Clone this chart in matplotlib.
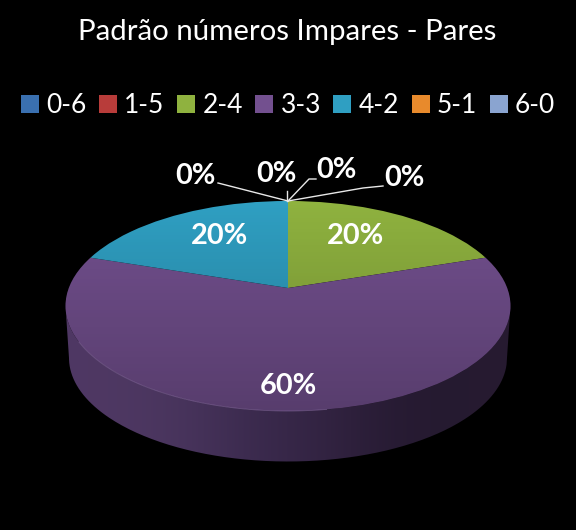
import numpy as np
import matplotlib
matplotlib.use("Agg")
import matplotlib.pyplot as plt
from matplotlib.patches import Circle, PathPatch
from matplotlib.path import Path

title = "Padrão números Impares - Pares"
categories = ["0-6", "1-5", "2-4", "3-3", "4-2", "5-1", "6-0"]
percent = [0, 0, 20, 60, 20, 0, 0]
colors = ["#3A70B0", "#B83C3A", "#8FB23F", "#73508F", "#2F9FC2", "#E88A2C", "#8AA4D0"]

W, H = 576, 530
SQ = 0.472   # vertical squash of the pie plane

plt.rcParams['font.family'] = ['Lato', 'DejaVu Sans']
fig = plt.figure(figsize=(W / 100, H / 100), dpi=100, facecolor='black')
ax = fig.add_axes([0, 0, 1, 1], facecolor='black')


def Y(py):
    """pixel row -> squashed data y"""
    return (H - py) / SQ


# side wall
t = np.linspace(np.pi, 2 * np.pi, 200)
top_x, top_y = 288 + 222.5 * np.cos(t), Y(306 - 105 * np.sin(t))
bot_x, bot_y = 288 + 219 * np.cos(t), Y(358 - 103.5 * np.sin(t))
verts = np.r_[np.c_[top_x, top_y], np.c_[bot_x, bot_y][::-1], [[top_x[0], top_y[0]]]]
wall = PathPatch(Path(verts), fc='none', ec='none', transform=ax.transData)
ax.add_patch(wall)
wall_grad = np.array([[0.31, 0.22, 0.39], [0.29, 0.21, 0.37], [0.23, 0.165, 0.305],
                      [0.20, 0.14, 0.26], [0.145, 0.10, 0.19], [0.15, 0.105, 0.19]])[None, :, :]
im = ax.imshow(wall_grad, extent=(66, 511, Y(470), Y(300)), aspect='auto',
               interpolation='bicubic', zorder=1)
im.set_clip_path(wall)

# top face: exploded from the off-centre apex and clipped to the rim ellipse
rim = Circle((288, Y(306)), 222.5, transform=ax.transData, fc='none', ec='none')
wedges, _ = ax.pie(percent, colors=colors, startangle=90, counterclock=False,
                   center=(288, Y(288)), radius=420, normalize=True,
                   wedgeprops=dict(linewidth=0, zorder=2))
for w in wedges:
    w.set_clip_on(True)
    w.set_clip_path(rim)
    w.set_zorder(2)

shade = np.zeros((64, 2, 4))
shade[..., 3] = np.linspace(0.0, 0.24, 64)[:, None]
sh = ax.imshow(shade, extent=(60, 516, Y(415), Y(198)), aspect='auto', zorder=3)
sh.set_clip_path(rim)

# pale rim highlight along the lower-left edge
t2 = np.linspace(np.radians(200), np.radians(280), 80)
ax.plot(288 + 222.5 * np.cos(t2), Y(306 - 105 * np.sin(t2)), color='#8E72A8', lw=0.6,
        alpha=0.55, zorder=4)

ax.set_xlim(0, W)
ax.set_ylim(0, H / SQ)
ax.set_aspect('auto')
ax.axis('off')

# leader lines
leaders = [[(218, 183), (288, 201)],
           [(287, 191), (287, 201)],
           [(316, 179), (309, 179), (288, 201)],
           [(383, 186), (363, 188), (288, 201)]]
for pts in leaders:
    xs, ys = zip(*pts)
    ax.plot(xs, [Y(p) for p in ys], color='#E8E8E8', lw=1.0, zorder=5)

# data labels
label_pos = {0: (195, 175.5), 1: (276, 173.5), 5: (336, 170.5), 6: (404, 177.5),
             2: (356, 236.5), 3: (288, 386.5), 4: (220, 236.5)}
for i, (lx, ly) in label_pos.items():
    ax.text(lx, Y(ly), f"{percent[i]}%", color='white', fontsize=20.8, fontweight='bold',
            ha='center', va='center', zorder=6)

fig.text(287.5 / W, 1 - 32 / H, title, color='white', fontsize=21.2, ha='center', va='center')

leg = ax.legend(wedges, categories, ncol=7, loc='upper left',
                bbox_to_anchor=(21 / W, 1 - 93 / H), frameon=False, fontsize=19,
                labelcolor='white', handlelength=0.68, handleheight=0.68,
                handletextpad=0.28, columnspacing=0.47, borderpad=0, borderaxespad=0)

fig.savefig("out.png", dpi=100, facecolor='black')
